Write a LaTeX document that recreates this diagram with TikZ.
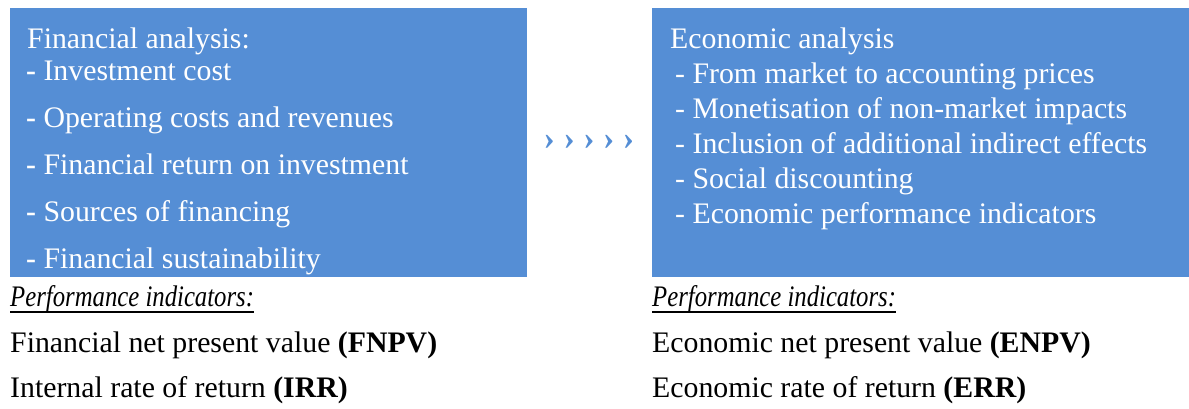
\documentclass[tikz,border=0pt]{standalone}
\usepackage{fontspec}
\setmainfont{Liberation Serif}
\usepackage{graphicx}
\definecolor{boxblue}{RGB}{85,142,213}
\tikzset{
  panel/.style={fill=boxblue, draw=none, inner sep=0, anchor=north west, minimum height=269pt},
  txt/.style={inner sep=0, anchor=base west, font=\fontsize{29.8}{36}\selectfont},
  wtxt/.style={txt, text=white},
  chev/.style={inner sep=0, text=boxblue, font=\fontsize{34}{36}\selectfont\bfseries},
  uline/.style={line width=2.4pt, black}
}
\begin{document}
\begin{tikzpicture}[x=1pt,y=-1pt]
\useasboundingbox (0,0) rectangle (1189,408);
% panels
\node[panel, minimum width=517pt] (fin) at (10,8) {};
\node[panel, minimum width=537pt] (eco) at (652,8) {};
% financial text
\node[wtxt] (ft) at (27,48) {Financial analysis:};
\node[wtxt] (f1) at (26,80) {\textbf{-} Investment cost};
\node[wtxt] (f2) at (26,127) {\textbf{-} Operating costs and revenues};
\node[wtxt] (f3) at (26,174) {\textbf{-} Financial return on investment};
\node[wtxt] (f4) at (26,221) {\textbf{-} Sources of financing};
\node[wtxt] (f5) at (26,268) {\textbf{-} Financial sustainability};
% economic text
\node[wtxt] (et) at (670,48) {Economic analysis};
\node[wtxt] (e1) at (675,83) {- From market to accounting prices};
\node[wtxt] (e2) at (675,118) {- Monetisation of non-market impacts};
\node[wtxt] (e3) at (675,153) {- Inclusion of additional indirect effects};
\node[wtxt] (e4) at (675,188) {- Social discounting};
\node[wtxt] (e5) at (675,223) {- Economic performance indicators};
% chevrons
\node[chev] (arr) at (589,142) {› › › › ›};
% performance indicators
\node[txt] (pl) at (10,306) {\scalebox{0.83}[1]{\itshape Performance indicators:}};
\draw[uline] ([yshift=-6pt]pl.base west) -- ([yshift=-6pt]pl.base east);
\node[txt] (pl1) at (10,352) {Financial net present value \textbf{(FNPV)}};
\node[txt] (pl2) at (10,397) {Internal rate of return \textbf{(IRR)}};
\node[txt] (pr) at (652,306) {\scalebox{0.83}[1]{\itshape Performance indicators:}};
\draw[uline] ([yshift=-6pt]pr.base west) -- ([yshift=-6pt]pr.base east);
\node[txt] (pr1) at (652,352) {Economic net present value \textbf{(ENPV)}};
\node[txt] (pr2) at (652,397) {Economic rate of return \textbf{(ERR)}};
\end{tikzpicture}
\end{document}
